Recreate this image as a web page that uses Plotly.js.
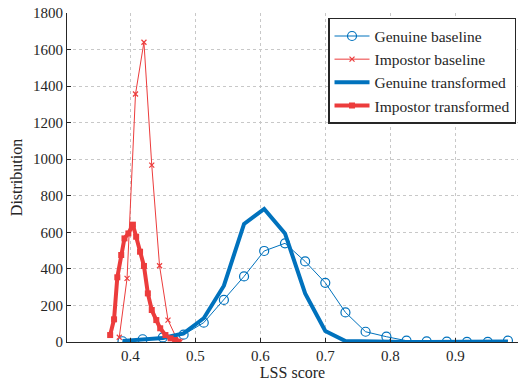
<!DOCTYPE html>
<html>
<head>
<meta charset="utf-8">
<script src="https://cdn.plot.ly/plotly-3.0.1.min.js"></script>
<style>html,body{margin:0;padding:0;background:#fff;}#chart{width:518px;height:382px;}</style>
</head>
<body>
<div id="chart"></div>
<script>
// Genuine (shared score grid)
var genuineX = [0.388,0.419,0.450,0.482,0.513,0.544,0.575,0.606,0.638,0.669,0.700,0.731,0.762,0.794,0.825,0.856,0.887,0.918,0.950,0.981];
var genuineBaseline = [4,15,25,40,106,230,359,498,540,441,324,162,56,29,7,3,2,1,1,8];
var genuineTransformed = [6,12,22,47,130,308,646,728,594,266,60,5,2,1,0,0,0,0,0,3];

// Impostor baseline
var impBaseX = [0.383,0.395,0.408,0.421,0.433,0.445,0.458,0.470,0.477];
var impBaseY = [26,348,1357,1640,968,417,120,29,2];

// Impostor transformed
var impTransX = [0.369,0.375,0.380,0.386,0.391,0.397,0.404,0.409,0.415,0.421,0.427,0.433,0.440,0.446,0.454,0.462,0.469,0.474];
var impTransY = [38,124,354,476,567,594,642,576,494,416,266,175,120,75,38,20,11,2];

var xTicks = [0.4,0.5,0.6,0.7,0.8,0.9];
var yTicks = [0,200,400,600,800,1000,1200,1400,1600,1800];

var blue = 'rgb(0,114,189)';
var red = 'rgb(236,60,60)';
var fontFam = 'Liberation Serif, serif';
var txt = {family: fontFam, size: 16, color: '#262626'};
var tickTxt = {family: fontFam, size: 15, color: '#262626'};

var traces = [
  {x: genuineX, y: genuineBaseline, name: 'Genuine baseline', mode: 'lines+markers',
   line: {color: blue, width: 1},
   marker: {symbol: 'circle-open', size: 9, color: blue, line: {width: 1.2, color: blue}}},
  {x: impBaseX, y: impBaseY, name: 'Impostor baseline', mode: 'lines+markers',
   line: {color: red, width: 1},
   marker: {symbol: 'x-thin-open', size: 5, color: red, line: {width: 1.2, color: red}}},
  {x: genuineX, y: genuineTransformed, name: 'Genuine transformed', mode: 'lines',
   line: {color: blue, width: 4}},
  {x: impTransX, y: impTransY, name: 'Impostor transformed', mode: 'lines+markers',
   line: {color: red, width: 4},
   marker: {symbol: 'square', size: 6, color: red}}
];

var layout = {
  width: 518, height: 382,
  margin: {l: 67, r: 0, t: 13, b: 40, pad: 0},
  paper_bgcolor: '#fff', plot_bgcolor: '#fff',
  font: txt,
  showlegend: true,
  legend: {x: 0.9956, y: 0.985, xanchor: 'right', yanchor: 'top',
    bgcolor: '#fff', bordercolor: '#262626', borderwidth: 1.5,
    font: {family: fontFam, size: 15.5, color: '#262626'}, tracegroupgap: 0, itemwidth: 35},
  xaxis: {range: [0.3026, 0.9965], tickvals: xTicks, ticktext: xTicks.map(function(v){return v.toFixed(1);}),
    tickfont: tickTxt,
    ticks: 'inside', ticklen: 4, tickcolor: '#262626', showline: true, linecolor: '#262626', linewidth: 1,
    showgrid: true, gridcolor: '#c8c8c8', griddash: 'dot', gridwidth: 1, zeroline: false,
    title: {text: 'LSS score', standoff: 1, font: txt}},
  yaxis: {range: [0, 1800], tickvals: yTicks, tickfont: tickTxt,
    ticks: 'inside', ticklen: 4, tickcolor: '#262626', showline: true, linecolor: '#262626', linewidth: 1,
    showgrid: true, gridcolor: '#c8c8c8', griddash: 'dot', gridwidth: 1, zeroline: false,
    title: {text: 'Distribution', standoff: 6, font: txt}}
};

Plotly.newPlot('chart', traces, layout, {displayModeBar: false, staticPlot: true});
</script>
</body>
</html>
